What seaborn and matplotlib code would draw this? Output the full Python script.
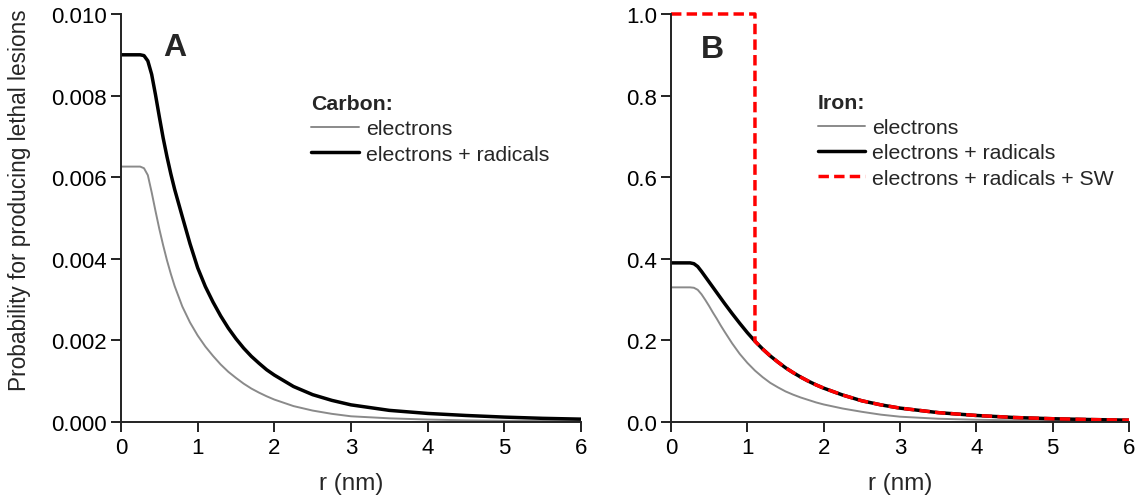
import matplotlib
matplotlib.use("Agg")
import matplotlib.pyplot as plt
import seaborn as sns
from matplotlib.ticker import FormatStrFormatter

# ---- data ----
r_nm = [0, 0.25, 0.3, 0.35, 0.4, 0.45, 0.5, 0.55, 0.6, 0.65, 0.7, 0.8, 0.9, 1.0,
        1.1, 1.2, 1.3, 1.4, 1.5, 1.6, 1.7, 1.8, 1.9, 2.0, 2.25, 2.5, 2.75, 3.0,
        3.5, 4.0, 4.5, 5.0, 5.5, 6.0]
carbon_electrons = [0.00626, 0.00626, 0.00622, 0.00605, 0.00563, 0.00517, 0.00473,
                    0.00433, 0.00396, 0.00363, 0.00333, 0.00283, 0.00244, 0.00212,
                    0.00185, 0.00162, 0.00141, 0.00123, 0.00108, 0.00094, 0.00082,
                    0.00072, 0.00063, 0.00055, 0.00039, 0.00028, 0.00020, 0.00014,
                    0.00009, 0.00006, 0.00004, 0.00003, 0.000025, 0.00002]
carbon_radicals = [0.0090, 0.0090, 0.00898, 0.00885, 0.00852, 0.00802, 0.00748,
                   0.00696, 0.0065, 0.00608, 0.0057, 0.00503, 0.00437, 0.00378,
                   0.00332, 0.00294, 0.0026, 0.0023, 0.00204, 0.00181, 0.00161,
                   0.00144, 0.00128, 0.00115, 0.00087, 0.00067, 0.00053, 0.00042,
                   0.000285, 0.00021, 0.00016, 0.00012, 0.00009, 0.00007]
iron_electrons = [0.330, 0.330, 0.329, 0.324, 0.313, 0.299, 0.284, 0.268, 0.253,
                  0.237, 0.222, 0.193, 0.167, 0.145, 0.126, 0.110, 0.096, 0.085,
                  0.075, 0.067, 0.060, 0.054, 0.048, 0.043, 0.033, 0.025, 0.018,
                  0.013, 0.008, 0.0055, 0.004, 0.003, 0.0025, 0.002]
iron_radicals = [0.39, 0.39, 0.388, 0.381, 0.369, 0.356, 0.343, 0.330, 0.317, 0.304,
                 0.291, 0.266, 0.242, 0.219, 0.198, 0.179, 0.162, 0.147, 0.133,
                 0.121, 0.110, 0.100, 0.091, 0.083, 0.066, 0.052, 0.042, 0.034,
                 0.023, 0.016, 0.011, 0.008, 0.006, 0.0045]
iron_sw_r = [0, 1.1, 1.1, 1.2, 1.3, 1.4, 1.5, 1.6, 1.7, 1.8, 1.9, 2.0, 2.25, 2.5,
             2.75, 3.0, 3.5, 4.0, 4.5, 5.0, 5.5, 6.0]
iron_sw = [1.0, 1.0, 0.198, 0.179, 0.162, 0.147, 0.133, 0.121, 0.110, 0.100, 0.091,
           0.083, 0.066, 0.052, 0.042, 0.034, 0.023, 0.016, 0.011, 0.008, 0.006, 0.0045]

labels = ["electrons", "electrons + radicals", "electrons + radicals + SW"]

sns.set_style("ticks")
plt.rcParams["font.family"] = ["Liberation Sans", "DejaVu Sans"]
plt.rcParams["axes.edgecolor"] = "#222222"
plt.rcParams["xtick.color"] = "#222222"
plt.rcParams["ytick.color"] = "#222222"
plt.rcParams["xtick.labelcolor"] = "black"
plt.rcParams["ytick.labelcolor"] = "black"

fig = plt.figure(figsize=(11.44, 5.02), dpi=100)
axA = fig.add_axes([121/1144, 79/502, 460/1144, 408/502])
axB = fig.add_axes([671/1144, 79/502, 458/1144, 408/502])

gray = "#8a8a8a"
XLAB = 17.5
YLAB = 16.3
TCK = 16
LEG = 15.3

sns.lineplot(x=r_nm, y=carbon_electrons, ax=axA, color=gray, lw=1.4,
             label=labels[0], estimator=None, sort=False)
sns.lineplot(x=r_nm, y=carbon_radicals, ax=axA, color="black", lw=2.5,
             label=labels[1], estimator=None, sort=False)

sns.lineplot(x=r_nm, y=iron_electrons, ax=axB, color=gray, lw=1.4,
             label=labels[0], estimator=None, sort=False)
sns.lineplot(x=r_nm, y=iron_radicals, ax=axB, color="black", lw=2.5,
             label=labels[1], estimator=None, sort=False)
sns.lineplot(x=iron_sw_r, y=iron_sw, ax=axB, color="#ff0000", lw=2.5,
             label=labels[2], estimator=None, sort=False)
axB.lines[-1].set_linestyle((0, (3.0, 1.5)))
axB.lines[-1].set_clip_on(False)

for ax in (axA, axB):
    ax.set_xlim(0, 6)
    ax.set_xticks(range(0, 7))
    ax.set_xlabel("r (nm)", fontsize=XLAB, labelpad=10)
    ax.tick_params(axis="both", length=7, width=1.4, labelsize=TCK, direction="out")
    ax.tick_params(axis="x", pad=4)
    ax.tick_params(axis="y", pad=3)
    sns.despine(ax=ax)
    for s in ("left", "bottom"):
        ax.spines[s].set_linewidth(1.4)

axA.set_ylim(0, 0.010)
axA.set_yticks([0, 0.002, 0.004, 0.006, 0.008, 0.010])
axA.yaxis.set_major_formatter(FormatStrFormatter("%.3f"))
axA.set_ylabel("Probability for producing lethal lesions", fontsize=YLAB)
axA.yaxis.set_label_coords(-0.196, 0.547)

axB.set_ylim(0, 1.0)
axB.set_yticks([0, 0.2, 0.4, 0.6, 0.8, 1.0])
axB.yaxis.set_major_formatter(FormatStrFormatter("%.1f"))
axB.set_ylabel("")

axA.text(0.092, 0.955, "A", transform=axA.transAxes, fontsize=23,
         fontweight="bold", va="top", ha="left")
axB.text(0.065, 0.95, "B", transform=axB.transAxes, fontsize=23,
         fontweight="bold", va="top", ha="left")

for ax, title, anchor in ((axA, "Carbon:", (0.413, 0.804)),
                          (axB, "Iron:", (0.32, 0.807))):
    leg = ax.legend(title=title, loc="upper left", bbox_to_anchor=anchor,
                    frameon=False, fontsize=LEG, title_fontsize=LEG,
                    handlelength=2.25, handletextpad=0.33, labelspacing=0.3,
                    borderpad=0.0, borderaxespad=0.0, alignment="left")
    leg.get_title().set_fontweight("bold")

fig.savefig("out.png", dpi=100)
